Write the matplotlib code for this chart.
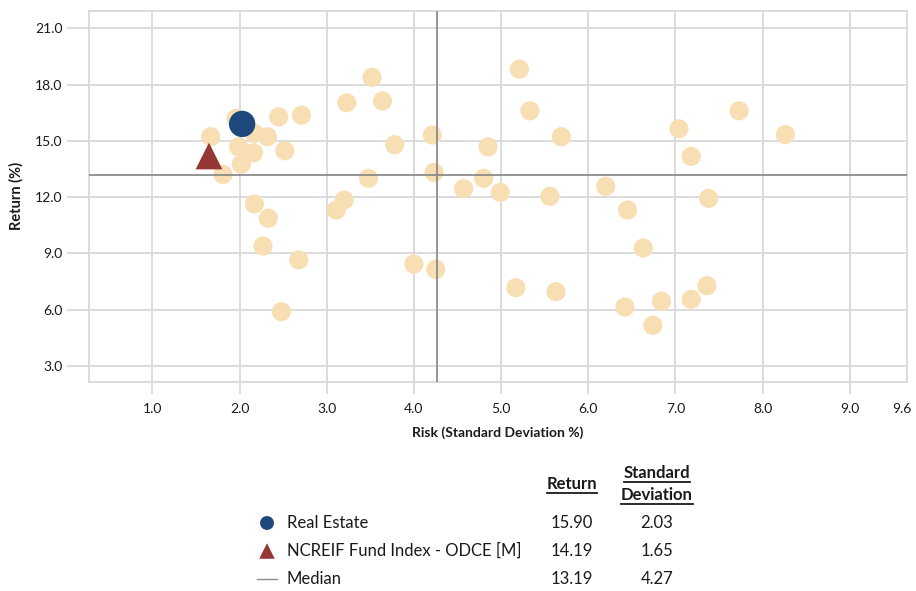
import numpy as np
import matplotlib
matplotlib.use("Agg")
import matplotlib.pyplot as plt
from matplotlib.lines import Line2D

plt.rcParams['font.family'] = ['Lato', 'DejaVu Sans']

# ==================== data ====================
# peer universe (risk = std dev %, return %)
peer_risk = [1.67, 1.96, 2.17, 2.32, 1.99, 2.16, 2.02, 1.81, 2.45, 2.71,
             2.52, 2.17, 2.33, 2.27, 2.68, 2.48, 3.23, 3.52, 3.64, 3.78,
             4.21, 4.23, 3.48, 3.20, 3.11, 4.00, 4.25, 5.21, 5.33, 5.69,
             4.85, 4.80, 4.57, 4.99, 5.56, 6.20, 6.45, 6.63, 7.04, 7.18,
             7.38, 7.73, 8.26, 5.17, 5.63, 6.42, 6.74, 6.84, 7.18, 7.36]
peer_return = [15.22, 16.20, 15.40, 15.22, 14.68, 14.36, 13.75, 13.21, 16.28, 16.37,
               14.47, 11.63, 10.87, 9.39, 8.65, 5.89, 17.03, 18.38, 17.12, 14.79,
               15.31, 13.32, 13.00, 11.84, 11.31, 8.43, 8.15, 18.82, 16.60, 15.22,
               14.68, 13.00, 12.45, 12.25, 12.04, 12.57, 11.31, 9.29, 15.64, 14.17,
               11.93, 16.60, 15.33, 7.17, 6.96, 6.14, 5.17, 6.45, 6.55, 7.28]

legend_names = ["Real Estate", "NCREIF Fund Index - ODCE [M]", "Median"]
legend_return = [15.90, 14.19, 13.19]
legend_std = [2.03, 1.65, 4.27]

x_ticks = [1.0, 2.0, 3.0, 4.0, 5.0, 6.0, 7.0, 8.0, 9.0, 9.6]
y_ticks = [3.0, 6.0, 9.0, 12.0, 15.0, 18.0, 21.0]

# ==================== style ====================
W, H = 916, 591
TAN = '#F8DEB3'
BLUE = '#1F497D'
RED = '#953735'
GRID = '#D9D9D9'
MED = '#8C8C8C'
TXT = '#1a1a1a'

fig = plt.figure(figsize=(W / 100, H / 100), dpi=100)
ax = fig.add_axes([89 / W, 1 - 381.7 / H, 818 / W, 370.7 / H])

ax.set_xlim(0.274, 9.655)
ax.set_ylim(2.16, 21.92)

ax.scatter(peer_risk, peer_return, s=190, color=TAN, edgecolors='none', zorder=2)
ax.axvline(legend_std[2], color=MED, lw=1.3, zorder=3)
ax.axhline(legend_return[2], color=MED, lw=1.3, zorder=3)
ax.scatter([legend_std[0]], [legend_return[0]], s=360, color=BLUE, edgecolors='none', zorder=5)
ax.scatter([legend_std[1]], [legend_return[1]], s=370, marker='^', color=RED, edgecolors='none', zorder=4)

ax.set_xticks(x_ticks)
ax.set_xticklabels([f"{v:.1f}" for v in x_ticks])
ax.set_yticks(y_ticks)
ax.set_yticklabels([f"{v:.1f}" for v in y_ticks])
ax.grid(True, color=GRID, lw=1.3, zorder=0)
ax.set_axisbelow(True)
for s in ax.spines.values():
    s.set_color(GRID)
    s.set_linewidth(1.3)
ax.tick_params(axis='x', length=8.5, width=1.3, color=GRID, pad=7, labelsize=10, labelcolor=TXT)
ax.tick_params(axis='y', length=16, width=1.3, color=GRID, pad=3, labelsize=10, labelcolor=TXT)
# 9.6 only gets a label at the right edge
ax.get_xgridlines()[-1].set_visible(False)
ax.xaxis.get_major_ticks()[-1].tick1line.set_visible(False)

ax.set_xlabel("Risk (Standard Deviation %)", fontsize=10, fontweight='bold', color=TXT, labelpad=8)
ax.set_ylabel("Return (%)", fontsize=10.5, fontweight='bold', color=TXT, labelpad=8)
ax.yaxis.set_label_coords(-65 / 818, 0.5)

# ==================== legend table ====================
lg = fig.add_axes([0, 0, 1, 1])
lg.set_xlim(0, W)
lg.set_ylim(H, 0)
lg.axis('off')

col_ret, col_std = 572, 657
h1 = lg.text(col_ret, 484, "Return", ha='center', va='center', fontsize=12, fontweight='bold', color=TXT)
h2 = lg.text(col_std, 473, "Standard", ha='center', va='center', fontsize=12, fontweight='bold', color=TXT)
h3 = lg.text(col_std, 495, "Deviation", ha='center', va='center', fontsize=12, fontweight='bold', color=TXT)

row_y = [523, 551, 579]
for i, name in enumerate(legend_names):
    lg.text(287, row_y[i], name, ha='left', va='center', fontsize=12, color=TXT)
    lg.text(col_ret, row_y[i], f"{legend_return[i]:.2f}", ha='center', va='center', fontsize=12, color=TXT)
    lg.text(col_std, row_y[i], f"{legend_std[i]:.2f}", ha='center', va='center', fontsize=12, color=TXT)
lg.scatter([267], [row_y[0]], s=100, color=BLUE, edgecolors='none')
lg.scatter([267], [row_y[1]], s=125, marker='^', color=RED, edgecolors='none')
lg.add_line(Line2D([257, 277], [row_y[2], row_y[2]], color=MED, lw=1))

# underline the bold headers
fig.canvas.draw()
r = fig.canvas.get_renderer()
for t in (h1, h2, h3):
    bb = t.get_window_extent(renderer=r)
    y = H - bb.y0 + 1
    lg.add_line(Line2D([bb.x0, bb.x1], [y, y], color=TXT, lw=1.3))

fig.savefig("out.png", dpi=100)
